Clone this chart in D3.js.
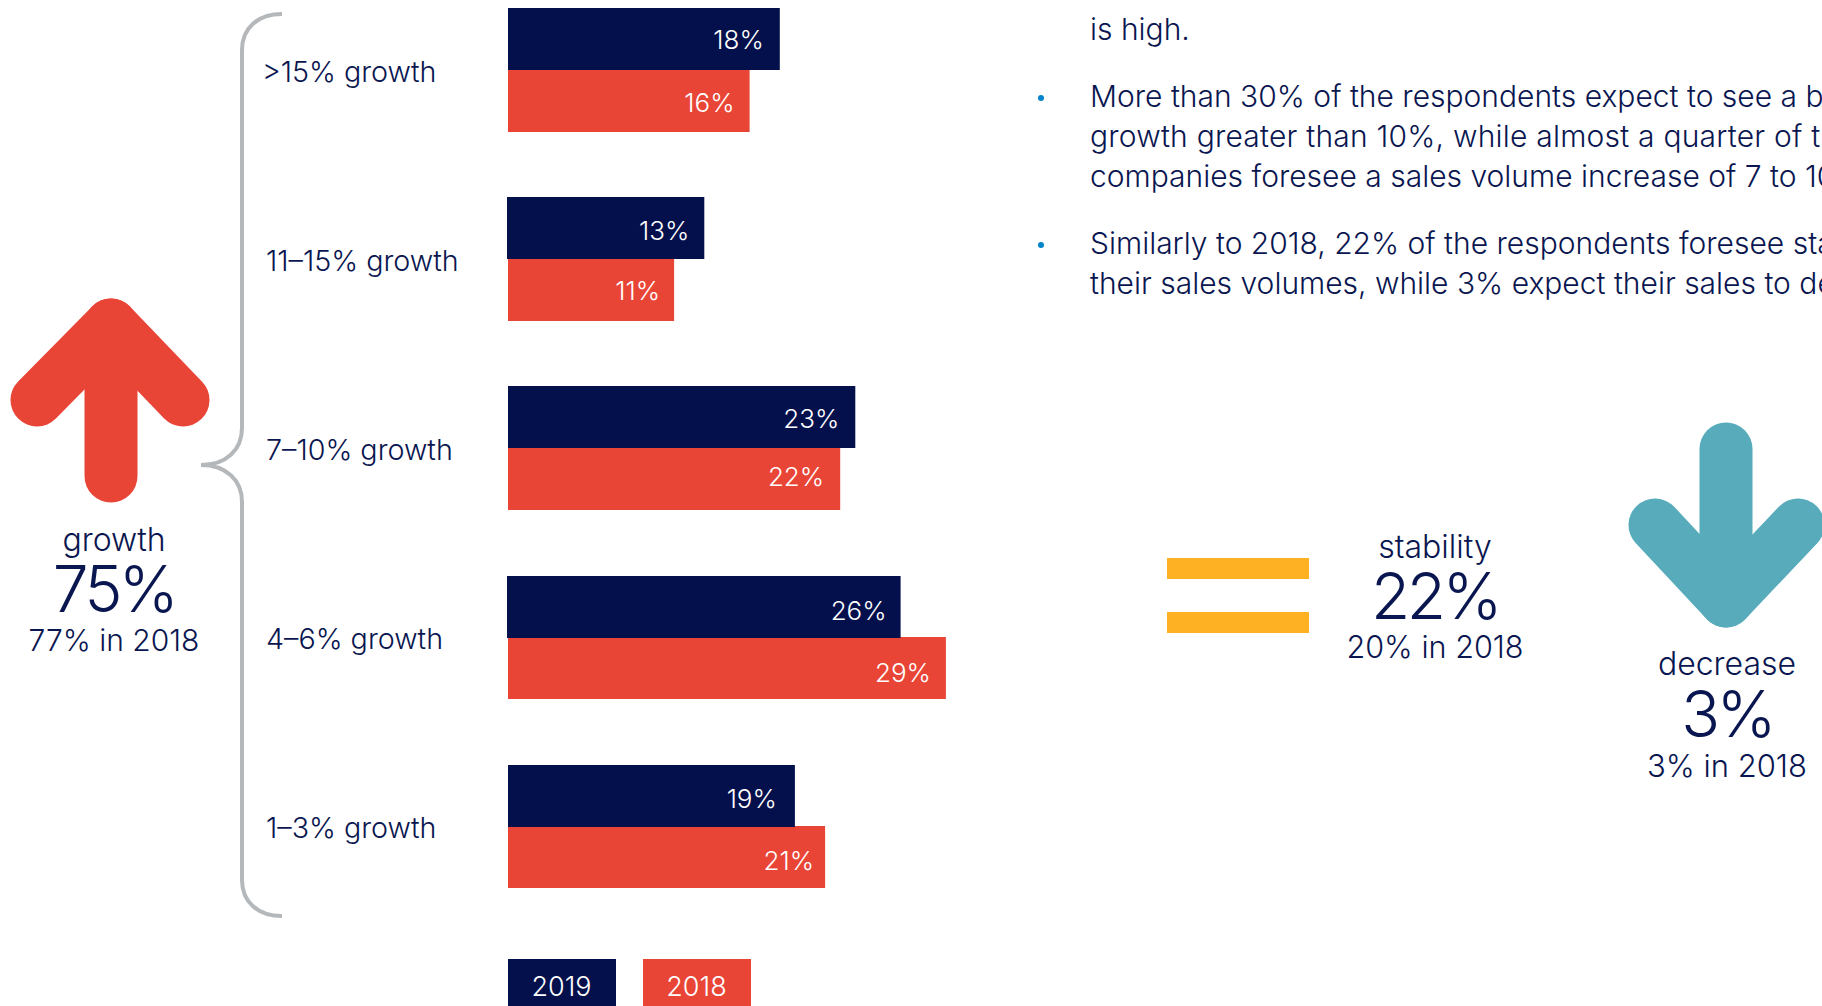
<!DOCTYPE html>
<html>
<head>
<meta charset="utf-8">
<script src="https://cdn.jsdelivr.net/npm/d3@7/dist/d3.min.js"></script>
<style>
html,body{margin:0;padding:0;background:#fff;overflow:hidden}
svg{display:block}
text{font-family:Inter,"Noto Sans",sans-serif;font-weight:350;fill:#0a1650}
</style>
</head>
<body>
<svg id="chart" width="1822" height="1006"></svg>
<script>
// Expected sales volume growth by band, 2019 against 2018
const categories = [">15% growth", "11–15% growth", "7–10% growth", "4–6% growth", "1–3% growth"];
const values2019 = [18, 13, 23, 26, 19];
const values2018 = [16, 11, 22, 29, 21];
const seriesNames = ["2019", "2018"];

const summaryGrowth = ["growth", "75%", "77% in 2018"];
const summaryStability = ["stability", "22%", "20% in 2018"];
const summaryDecrease = ["decrease", "3%", "3% in 2018"];

const bulletLines = [
  "is high.",
  "More than 30% of the respondents expect to see a b",
  "growth greater than 10%, while almost a quarter of t",
  "companies foresee a sales volume increase of 7 to 10",
  "Similarly to 2018, 22% of the respondents foresee sta",
  "their sales volumes, while 3% expect their sales to de"
];

// Hand placement of bars and their value labels, row by row
const navyTopNudge = [0, 0, 0, 1, 1];
const navyLeftNudge = [0, -1, 0, -1, 0];
const navyLabelInset = [16, 15, 16, 14, 18];
const redLabelInset = [15, 14, 16, 15, 11];
const navyLabelDrop = [41, 43, 42, 44, 43];
const redLabelDrop = [42, 41, 38, 45, 44];
const categoryNudge = [-4, 0, 0, 0, 0];
const bodySpacing = [0, 0, 0.22, 0, 0, 0];

const NAVY = "#04104c", RED = "#e94537", TEAL = "#57abbb", AMBER = "#ffb124", GREY = "#b5b8bb", BLUE = "#0083ca";

const svg = d3.select("#chart");

// One bar is 15.1px per percentage point
const x = d3.scaleLinear().domain([0, 30]).range([508, 961]);
const y = d3.scaleBand().domain(categories).range([8, 953]);
const barH = 62;

const rows = categories.map((c, i) => ({c, i, a: values2019[i], b: values2018[i]}));
const navyTop = d => y(d.c) + navyTopNudge[d.i];
const redTop = d => y(d.c) + barH;

const group = svg.selectAll("g.row").data(rows).join("g").attr("class", "row");

// Red first: the navy bar sits on top where the two touch
group.append("rect").attr("x", x(0)).attr("y", redTop).attr("height", barH)
  .attr("width", d => x(d.b) - x(0)).attr("fill", RED);
group.append("rect").attr("x", d => x(0) + navyLeftNudge[d.i]).attr("y", navyTop).attr("height", barH)
  .attr("width", d => x(d.a) - x(0) - navyLeftNudge[d.i]).attr("fill", NAVY);

group.append("text").attr("x", d => x(d.a) - navyLabelInset[d.i]).attr("y", d => navyTop(d) + navyLabelDrop[d.i])
  .attr("text-anchor", "end").attr("font-size", 26).style("fill", "#fff").style("font-weight", 300).text(d => d.a + "%");
group.append("text").attr("x", d => x(d.b) - redLabelInset[d.i]).attr("y", d => redTop(d) + redLabelDrop[d.i])
  .attr("text-anchor", "end").attr("font-size", 26).style("fill", "#fff").style("font-weight", 300).text(d => d.b + "%");

group.append("text").attr("x", d => 266 + categoryNudge[d.i]).attr("y", d => y(d.c) + 74)
  .attr("font-size", 28.7).text(d => d.c);

// Legend swatches run off the lower edge of the page
const legend = svg.selectAll("g.legend").data(seriesNames).join("g").attr("class", "legend")
  .attr("transform", (d, i) => `translate(${508 + i * 135},959)`);
legend.append("rect").attr("width", 108).attr("height", 47).attr("fill", (d, i) => i ? RED : NAVY);
legend.append("text").attr("x", 53.5).attr("y", 37).attr("text-anchor", "middle")
  .attr("font-size", 27).style("fill", "#fff").style("font-weight", 300).text(d => d);

// Brace tying the growth bands together
const brace = d3.path();
brace.moveTo(282, 14);
brace.bezierCurveTo(258, 14, 242, 28, 242, 50);
brace.lineTo(242, 428);
brace.bezierCurveTo(242, 450, 226, 465, 201, 465);
brace.bezierCurveTo(226, 465, 242, 480, 242, 502);
brace.lineTo(242, 880);
brace.bezierCurveTo(242, 902, 258, 916, 282, 916);
svg.append("path").attr("d", brace.toString()).attr("fill", "none").attr("stroke", GREY).attr("stroke-width", 4);

// Round-capped arrows
const line = d3.line();
function arrow(points, color) {
  points.forEach(p => svg.append("path").attr("d", line(p)).attr("fill", "none")
    .attr("stroke", color).attr("stroke-width", 53)
    .attr("stroke-linecap", "round").attr("stroke-linejoin", "round"));
}
arrow([[[37, 400], [111, 325], [183, 400]], [[111, 325], [111, 476]]], RED);
arrow([[[1655, 525], [1726, 601], [1798, 525]], [[1726, 449], [1726, 601]]], TEAL);

// Equals sign for the stable share
svg.selectAll("rect.eq").data([558, 612]).join("rect").attr("class", "eq")
  .attr("x", 1167).attr("y", d => d).attr("width", 142).attr("height", 21).attr("fill", AMBER);

function summary(lines, cx, ys, subSize) {
  const sizes = [32, 64, subSize];
  lines.forEach((t, i) => svg.append("text").attr("x", cx).attr("y", ys[i])
    .attr("text-anchor", "middle").attr("font-size", sizes[i])
    .attr("letter-spacing", i === 1 ? -3.5 : 0).text(t));
}
summary(summaryGrowth, 114, [551, 612, 651], 30);
summary(summaryStability, 1435, [558, 619, 658], 30.6);
summary(summaryDecrease, 1727, [675, 737, 777], 31);

// Commentary column, cut by the right edge of the page
const bodyBaselines = [39.5, 106.5, 146.5, 186.5, 253.5, 293.5];
svg.selectAll("text.body").data(bulletLines).join("text").attr("class", "body")
  .attr("x", 1090).attr("y", (d, i) => bodyBaselines[i]).attr("font-size", 30)
  .attr("letter-spacing", (d, i) => bodySpacing[i]).text(d => d);
svg.selectAll("circle.bullet").data([98, 245]).join("circle").attr("class", "bullet")
  .attr("cx", 1041).attr("cy", d => d).attr("r", 3).attr("fill", BLUE);
</script>
</body>
</html>
